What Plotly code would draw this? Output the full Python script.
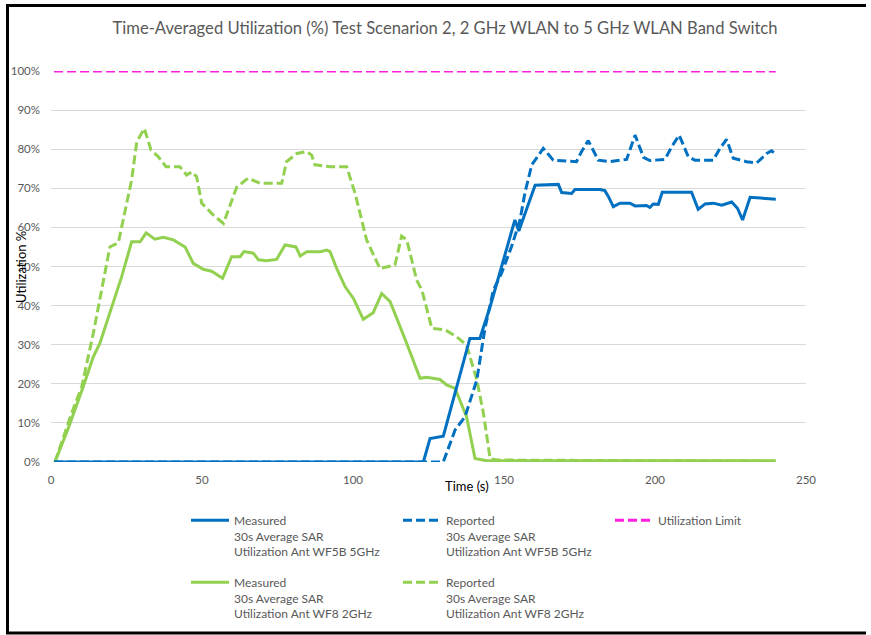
import plotly.graph_objects as go

# ---------------- data ----------------
t_meas_5g = [1, 123.3, 125.5, 129.9, 138.7, 142.0, 145.4, 153.6, 154.9, 160.3, 168.0, 169.1,
             172.4, 173.5, 181.8, 183.4, 184.5, 186.2, 188.4, 191.7, 193.4, 197.2, 198.3,
             199.4, 201.1, 202.4, 212.1, 214.3, 216.6, 219.3, 222.1, 225.4, 227.3, 229.0,
             231.5, 233.7, 238.1, 240.0]
u_meas_5g = [0, 0, 6.0, 6.6, 31.6, 31.6, 39.7, 61.9, 59.1, 70.8, 71.0, 68.9,
             68.7, 69.7, 69.7, 69.4, 68.0, 65.3, 66.2, 66.2, 65.5, 65.6, 65.1,
             66.0, 65.9, 69.0, 69.0, 64.6, 66.0, 66.2, 65.7, 66.5, 64.9, 61.9,
             67.7, 67.6, 67.4, 67.2]

t_rep_5g = [1, 129.9, 133.8, 137.1, 141.0, 143.7, 146.5, 149.2, 152.5, 155.3, 157.0, 159.2,
            163.0, 166.3, 174.0, 175.7, 177.9, 181.2, 185.1, 190.6, 193.4, 196.2, 198.3,
            203.3, 205.5, 208.0, 211.0, 213.2, 219.3, 221.5, 223.7, 225.9, 230.3, 233.7,
            237.0, 238.6, 240.0]
u_rep_5g = [0, 0, 8.2, 11.6, 21.0, 34.2, 44.0, 48.3, 55.1, 61.9, 69.1, 76.0,
            80.2, 77.2, 76.8, 79.4, 82.2, 77.2, 76.8, 77.4, 83.6, 77.9, 77.1,
            77.4, 80.6, 83.6, 78.1, 77.2, 77.2, 80.2, 82.5, 77.7, 76.8, 76.5,
            78.9, 79.6, 78.7]

t_meas_2g = [1.3, 5.7, 10.7, 14.0, 16.2, 19.5, 23.4, 26.7, 29.5, 31.5, 34.4, 37.2, 40.5,
             44.4, 47.1, 50.4, 53.2, 56.8, 59.8, 62.6, 63.9, 67.0, 68.7, 71.4, 74.7, 77.5,
             81.1, 82.5, 84.7, 89.1, 91.3, 92.4, 94.6, 97.4, 100.1, 103.4, 106.7, 109.5,
             112.3, 117.8, 122.2, 124.4, 128.8, 131.0, 133.8, 137.6, 140.4, 144.3, 240.0]
u_meas_2g = [0, 8.6, 19.3, 26.9, 30.4, 38.0, 47.4, 56.3, 56.3, 58.6, 57.0, 57.5, 56.8,
             55.0, 50.8, 49.3, 48.8, 47.0, 52.5, 52.5, 53.8, 53.4, 51.7, 51.5, 51.8, 55.5,
             55.0, 52.7, 53.8, 53.8, 54.2, 53.8, 49.5, 44.8, 41.9, 36.5, 38.2, 43.1,
             41.0, 30.3, 21.4, 21.7, 21.1, 19.7, 18.8, 11.6, 0.9, 0.3, 0.3]

t_rep_2g = [1.3, 6.8, 10.2, 14.0, 19.5, 22.3, 26.7, 28.4, 30.9, 33.1, 35.5, 38.1, 42.7,
            44.9, 46.6, 48.2, 49.9, 53.7, 57.1, 58.7, 61.5, 65.3, 69.2, 72.5, 76.4, 78.0,
            81.4, 84.7, 86.3, 87.4, 92.4, 97.9, 100.7, 104.5, 108.9, 113.9, 116.1, 117.8,
            121.1, 122.8, 126.1, 130.5, 134.4, 137.6, 141.0, 143.2, 145.4, 147.6, 240.0]
u_rep_2g = [0, 12.4, 19.3, 32.9, 55.0, 56.1, 72.1, 81.9, 85.3, 79.8, 78.1, 75.5, 75.5,
            73.4, 74.2, 73.0, 66.2, 63.2, 61.0, 64.4, 70.3, 72.6, 71.3, 71.3, 71.3, 76.8,
            78.9, 79.4, 78.5, 76.0, 75.5, 75.5, 68.7, 56.8, 49.5, 50.4, 57.8, 56.8,
            46.5, 44.0, 34.2, 33.8, 32.0, 29.9, 21.0, 12.4, 0.9, 0.5, 0.2]

t_limit = [1, 240]
u_limit = [100, 100]

x_ticks = [0, 50, 100, 150, 200, 250]
y_ticks = [0, 10, 20, 30, 40, 50, 60, 70, 80, 90, 100]
y_tick_labels = [f"{v}%" for v in y_ticks]

names = {
    "m5": "Measured<br>30s Average SAR<br>Utilization Ant WF5B 5GHz",
    "r5": "Reported<br>30s Average SAR<br>Utilization Ant WF5B 5GHz",
    "lim": "Utilization Limit",
    "m2": "Measured<br>30s Average SAR<br>Utilization Ant WF8 2GHz",
    "r2": "Reported<br>30s Average SAR<br>Utilization Ant WF8 2GHz",
}

# ---------------- styling ----------------
W, H = 871, 635
L, R, T, B = 51, 806, 71, 462  # plot area in px
BLUE = "#0070C0"
GREEN = "#92D050"
MAGENTA = "#FF1FE0"
GRAY = "#595959"
FONT = "Lato"
DASH = "9px,4px"

fig = go.Figure()

def add(x, y, name, color, dash, legend):
    fig.add_trace(go.Scatter(x=x, y=y, mode="lines", name=name,
                             line=dict(color=color, width=3, dash=dash),
                             legend=legend, hoverinfo="skip"))

add(t_meas_2g, u_meas_2g, names["m2"], GREEN, "solid", "legend4")
add(t_rep_2g, u_rep_2g, names["r2"], GREEN, DASH, "legend5")
add(t_limit, u_limit, names["lim"], MAGENTA, DASH, "legend3")
add(t_rep_5g, u_rep_5g, names["r5"], BLUE, DASH, "legend2")
add(t_meas_5g, u_meas_5g, names["m5"], BLUE, "solid", "legend")

def leg(xpx, ypx):
    return dict(xref="container", yref="container", x=xpx / W, y=1 - ypx / H,
                xanchor="left", yanchor="top", orientation="v", valign="top",
                bgcolor="rgba(0,0,0,0)", borderwidth=0, itemwidth=38,
                font=dict(family=FONT, size=12, color=GRAY), itemclick=False)

pw, ph = R - L, B - T

def px2x(p):
    return (p - L) / pw

def px2y(p):
    return (B - p) / ph

frame = dict(color="black", width=3)

fig.update_layout(
    width=W, height=H,
    margin=dict(l=L, r=W - R, t=T, b=H - B, pad=0, autoexpand=False),
    paper_bgcolor="white", plot_bgcolor="white",
    font=dict(family=FONT, size=12, color=GRAY),
    title=dict(text="Time-Averaged Utilization (%) Test Scenarion 2, 2 GHz WLAN to 5 GHz WLAN Band Switch",
               xref="container", yref="container", x=445 / W, y=1 - 28 / H,
               xanchor="center", yanchor="middle", automargin=False,
               font=dict(family=FONT, size=16.6, color=GRAY)),
    xaxis=dict(range=[0, 250], tickvals=x_ticks, showgrid=False, zeroline=False,
               showline=False, ticks="", automargin=False, ticklabelstandoff=9,
               tickfont=dict(family=FONT, size=11.5, color=GRAY)),
    yaxis=dict(range=[0, 100], tickvals=y_ticks, ticktext=y_tick_labels, showgrid=True,
               gridcolor="#d9d9d9", gridwidth=1, zeroline=False, showline=False, ticks="",
               automargin=False, ticklabelstandoff=10,
               tickfont=dict(family=FONT, size=11.5, color=GRAY)),
    legend=leg(186, 506),
    legend2=leg(398, 506),
    legend3=leg(610, 506),
    legend4=leg(186, 568),
    legend5=leg(398, 568),
    annotations=[
        dict(text="Time (s)", xref="paper", yref="paper", x=px2x(467), y=px2y(486),
             xanchor="center", yanchor="middle", showarrow=False,
             font=dict(family=FONT, size=13, color="black")),
        dict(text="Utilization %", xref="paper", yref="paper", x=px2x(21), y=px2y(267),
             xanchor="center", yanchor="middle", showarrow=False, textangle=-90,
             font=dict(family=FONT, size=13, color="black")),
    ],
    shapes=[
        dict(type="line", xref="paper", yref="paper", layer="above", line=frame,
             x0=px2x(7.5), x1=px2x(7.5), y0=px2y(634), y1=px2y(4)),
        dict(type="line", xref="paper", yref="paper", layer="above", line=frame,
             x0=px2x(6), x1=px2x(866), y0=px2y(5.5), y1=px2y(5.5)),
        dict(type="line", xref="paper", yref="paper", layer="above", line=frame,
             x0=px2x(6), x1=px2x(866), y0=px2y(633), y1=px2y(633)),
    ],
    showlegend=True,
)

fig.write_html("out.html", config={"displayModeBar": False, "staticPlot": True},
               post_script="document.body.style.margin='0px';")
